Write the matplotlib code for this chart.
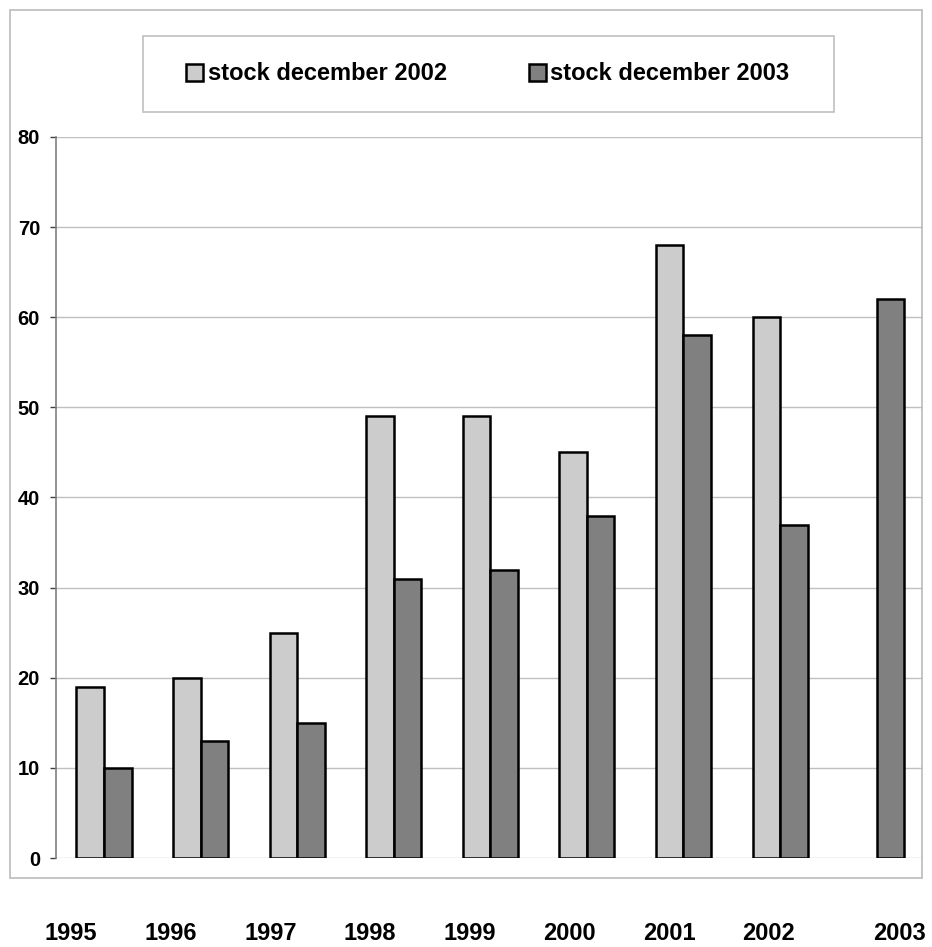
import matplotlib
matplotlib.use("Agg")
import matplotlib.pyplot as plt
from matplotlib.patches import Patch, Rectangle
import numpy as np

plt.rcParams['font.family'] = ['Liberation Sans', 'DejaVu Sans']

years = ['1995', '1996', '1997', '1998', '1999', '2000', '2001', '2002', '2003']
stock_2002 = [19, 20, 25, 49, 49, 45, 68, 60, None]
stock_2003 = [10, 13, 15, 31, 32, 38, 58, 37, 62]
series_names = ['stock december 2002', 'stock december 2003']
yticks = [0, 10, 20, 30, 40, 50, 60, 70, 80]

light = '#CCCCCC'
dark = '#808080'

W, H = 932, 947
fig = plt.figure(figsize=(W / 100, H / 100), dpi=100)

# outer frame
fig.patches.append(Rectangle((10 / W, 1 - 878 / H), 912 / W, 868 / H,
                             transform=fig.transFigure, fill=False,
                             edgecolor='#BBBBBB', linewidth=1.2, zorder=0))
# legend box
fig.patches.append(Rectangle((143 / W, 1 - 112 / H), 691 / W, 76 / H,
                             transform=fig.transFigure, fill=False,
                             edgecolor='#C0C0C0', linewidth=1.2, zorder=0))

ax = fig.add_axes([56 / W, 1 - 858 / H, (923 - 56) / W, (858 - 137) / H])

x = np.arange(len(years))
bw = 0.285
v02 = np.array([np.nan if v is None else v for v in stock_2002], dtype=float)
v03 = np.array(stock_2003, dtype=float)
m = ~np.isnan(v02)
ax.bar(x[m] - bw / 2, v02[m], width=bw, color=light, edgecolor='black',
       linewidth=1.8, zorder=3)
ax.bar(x + bw / 2, v03, width=bw, color=dark, edgecolor='black',
       linewidth=1.8, zorder=3)

ax.set_ylim(0, 80)
ax.set_xlim(-0.497, 8.48)
ax.set_yticks(yticks)
ax.set_yticklabels([str(t) for t in yticks], fontsize=14.5, fontweight='bold')
ax.yaxis.grid(True, color='#C0C0C0', linewidth=1)
ax.set_axisbelow(True)
ax.tick_params(axis='y', direction='out', length=4.5, width=1, color='#404040', pad=7)

label_pos = [-0.342 + 1.032 * i for i in range(8)] + [8.24]
ax.set_xticks(label_pos)
ax.set_xticklabels(years, fontsize=17, fontweight='bold')
ax.tick_params(axis='x', length=0, pad=46)

for s in ['top', 'right', 'bottom']:
    ax.spines[s].set_visible(False)
ax.spines['left'].set_color('#808080')
ax.spines['left'].set_linewidth(1.2)

handles = [Patch(facecolor=light, edgecolor='black', linewidth=1.8),
           Patch(facecolor=dark, edgecolor='black', linewidth=1.8)]
fig.legend(handles, series_names, ncol=2, loc='center',
           bbox_to_anchor=(488 / W, 1 - 74 / H), frameon=False,
           prop={'size': 17, 'weight': 'bold'},
           handlelength=0.72, handleheight=0.72, handletextpad=0.2,
           columnspacing=3.45, borderpad=0)

fig.savefig('out.png', dpi=100)
